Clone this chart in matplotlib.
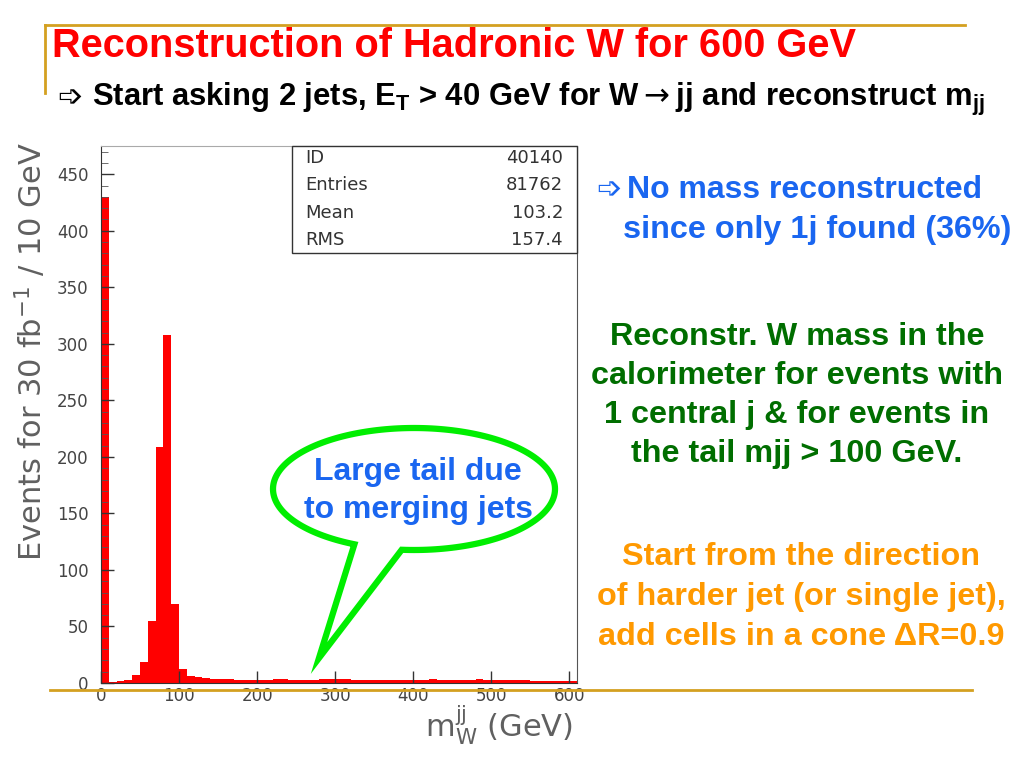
import numpy as np
import matplotlib
matplotlib.use("Agg")
import matplotlib.pyplot as plt
from matplotlib.ticker import MultipleLocator
from matplotlib.patches import Polygon, Rectangle

# ---------------- data ----------------
bin_width = 10
bin_lo = 0
counts = [430, 1, 2, 3, 7, 19, 55, 209, 308, 70,
          12, 6, 5, 4, 3.5, 3.5, 3.2, 3, 3, 3,
          3, 3, 3.5, 3.5, 3, 3, 3, 3, 3.5, 3.5,
          3.2, 3.5, 3, 3, 3, 3, 3, 3, 2.8, 2.8,
          2.8, 2.8, 3.3, 3, 2.6, 2.6, 2.6, 2.5, 3.2, 2.6,
          2.5, 2.5, 2.5, 2.3, 2.3, 2.2, 2, 2, 2, 2, 2]
x_ticks = [0, 100, 200, 300, 400, 500, 600]
y_ticks = [0, 50, 100, 150, 200, 250, 300, 350, 400, 450]
stats_names = ["ID", "Entries", "Mean", "RMS"]
stats_values = ["40140", "81762", "103.2", "157.4"]

title = "Reconstruction of Hadronic W for 600 GeV"
subtitle = (r"Start asking 2 jets, E$_\mathregular{T}$ > 40 GeV for W$\rightarrow$jj "
            r"and reconstruct m$_\mathregular{jj}$")
blue_lines = ["No mass reconstructed", "since only 1j found (36%)"]
green_lines = ["Reconstr. W mass in the", "calorimeter for events with",
               "1 central j & for events in", "the tail mjj > 100 GeV."]
orange_lines = ["Start from the direction", "of harder jet (or single jet),",
                "add cells in a cone ΔR=0.9"]
callout_lines = ["Large tail due", "to merging jets"]

W, H = 1024, 768
fig = plt.figure(figsize=(W / 100, H / 100), dpi=100)
fig.patch.set_facecolor("white")

# ---------------- histogram axes ----------------
L, R, T, B = 101, 577, 146, 683
ax = fig.add_axes([L / W, 1 - B / H, (R - L) / W, (B - T) / H])
edges = bin_lo + bin_width * np.arange(len(counts))
ax.bar(edges, counts, width=bin_width, align="edge", color="#ff0000", linewidth=0)
ax.set_xlim(0, 610)
ax.set_ylim(0, 475)
ax.set_xticks(x_ticks)
ax.set_yticks(y_ticks)
ax.yaxis.set_minor_locator(MultipleLocator(10))
ax.tick_params(axis="both", which="major", direction="in", length=9, width=1,
               color="#333333", labelcolor="#444444", labelsize=12)
ax.tick_params(axis="y", which="minor", direction="in", length=5, width=0.6, color="#555555")
ax.tick_params(axis="y", which="major", pad=9)
ax.tick_params(axis="x", which="major", pad=3)
for s in ["left", "bottom"]:
    ax.spines[s].set_color("#333333")
ax.spines["right"].set_color("#555555")
ax.spines["top"].set_color("#aaaaaa")

# ---------------- overlay in pixel coords ----------------
ov = fig.add_axes([0, 0, 1, 1], zorder=5)
ov.set_xlim(0, W)
ov.set_ylim(H, 0)
ov.axis("off")
ov.patch.set_alpha(0)

gold = "#d4a020"
ov.plot([45, 965], [25, 25], color=gold, lw=2)
ov.plot([45, 45], [25, 93], color=gold, lw=2)
ov.plot([50, 972], [690, 690], color=gold, lw=2, zorder=1)

# stats box
ov.add_patch(Rectangle((292, 146), 285, 107, facecolor="white", edgecolor="#333333", lw=1))
for i, (n, v) in enumerate(zip(stats_names, stats_values)):
    yy = 158 + i * 27.3
    ov.text(305, yy, n, ha="left", va="center", size=13, color="#333333", family="DejaVu Sans")
    ov.text(563, yy, v, ha="right", va="center", size=13, color="#333333", family="DejaVu Sans")

# axis labels
ov.text(31, 352, r"Events for 30 fb$^{-1}$ / 10 GeV", rotation=90, ha="center", va="center",
        size=22, color="#606060", family="DejaVu Sans", math_fontfamily="dejavusans")
ov.text(499, 725, r"m$_\mathregular{W}^\mathregular{jj}$ (GeV)", ha="center", va="center",
        size=22, color="#606060", family="DejaVu Sans", math_fontfamily="dejavusans")

bold = dict(family="Liberation Sans", weight="bold")
ov.text(52, 57, title, ha="left", va="baseline", size=28.6, color="#ff0000", **bold)
ov.text(57, 106, "➩", ha="left", va="baseline", size=22, color="black",
        family="DejaVu Sans", weight="bold")
ov.text(92, 106, subtitle, ha="left", va="baseline", size=22.3, color="black",
        math_fontfamily="dejavusans", **bold)

blue = "#1a66f0"
ov.text(596, 198, "➩", ha="left", va="baseline", size=22, color=blue, family="DejaVu Sans", weight="bold")
ov.text(627, 198, blue_lines[0], ha="left", va="baseline", size=23, color=blue, **bold)
ov.text(623, 238, blue_lines[1], ha="left", va="baseline", size=23.3, color=blue, **bold)

green = "#006e00"
for i, s in enumerate(green_lines):
    ov.text(797, 345 + i * 39, s, ha="center", va="baseline", size=23.3, color=green, **bold)

orange = "#ff9900"
for i, s in enumerate(orange_lines):
    ov.text(801, 565 + i * 40, s, ha="center", va="baseline", size=23.3, color=orange, **bold)

# callout bubble
cx, cy, a, b = 414, 489, 141, 61
t = np.radians(np.linspace(115, 455, 200))
pts = np.column_stack([cx + a * np.cos(t), cy + b * np.sin(t)])
tip = np.array([[319, 658]])
pts = np.vstack([pts, tip, pts[:1]])
ov.add_patch(Polygon(pts, closed=True, facecolor="white", edgecolor="#00ee00", lw=4.5, joinstyle="miter"))
for i, s in enumerate(callout_lines):
    ov.text(418, 480 + i * 38, s, ha="center", va="baseline", size=23, color=blue, **bold)

fig.savefig("out.png", dpi=100)
